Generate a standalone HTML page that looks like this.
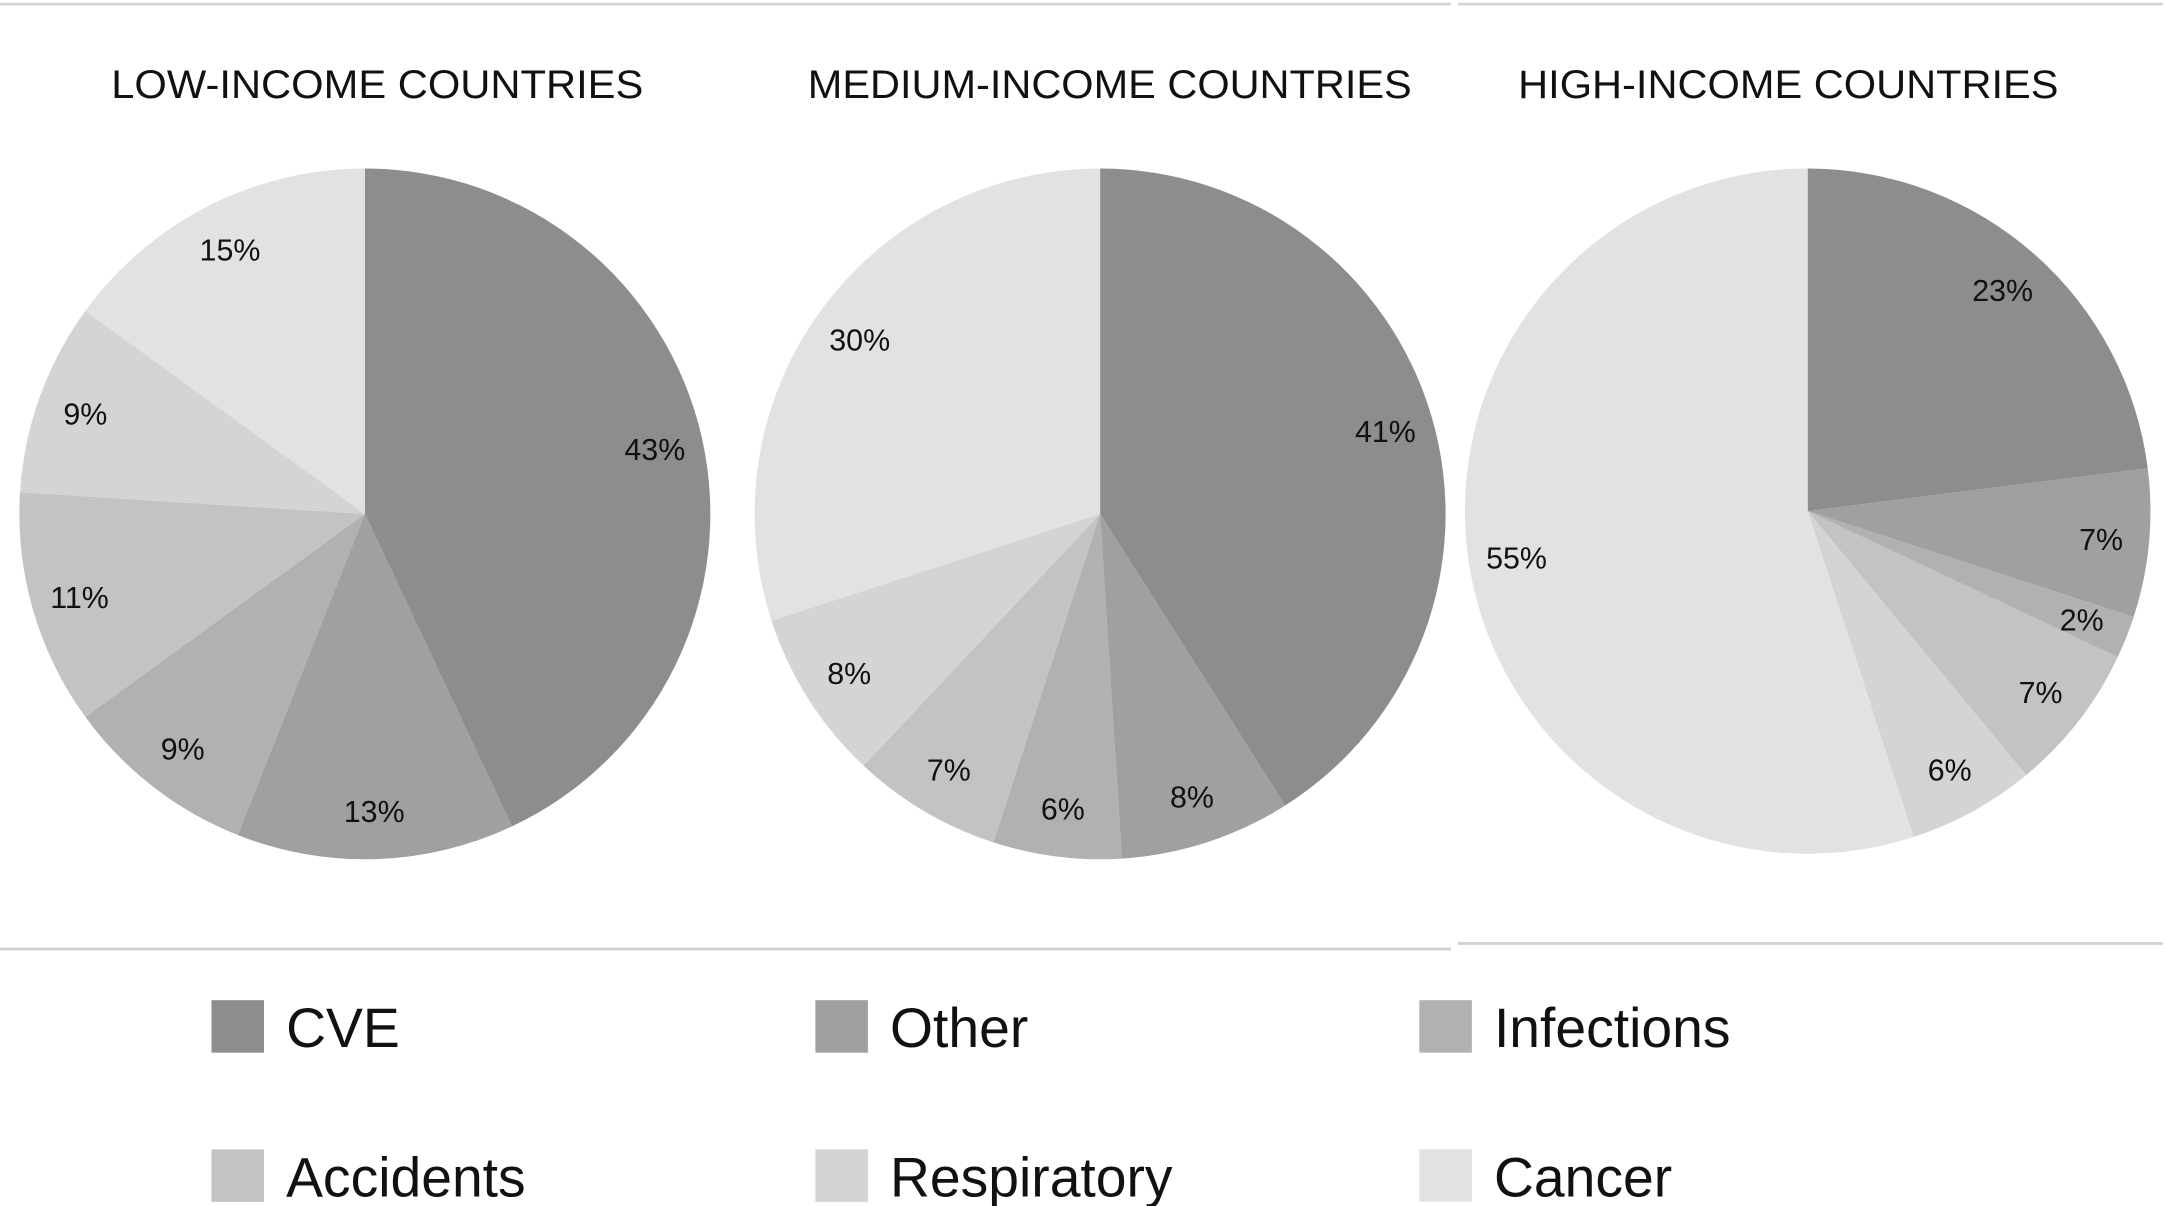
<!DOCTYPE html>
<html><head><meta charset="utf-8"><style>
html,body{margin:0;padding:0;background:#fff}
svg{display:block}
text{font-family:"Liberation Sans",Arial,sans-serif;fill:#111}
</style></head><body>
<svg width="2167" height="1206" viewBox="0 0 1568 873" preserveAspectRatio="none" xmlns="http://www.w3.org/2000/svg">
<g id="lines">
<line x1="0" y1="3" x2="1050" y2="3" stroke="#d6d6d6" stroke-width="2"/>
<line x1="1055" y1="3" x2="1565" y2="3" stroke="#d6d6d6" stroke-width="2"/>
<line x1="0" y1="687" x2="1050" y2="687" stroke="#d0d0d0" stroke-width="2"/>
<line x1="1055" y1="683" x2="1565" y2="683" stroke="#d0d0d0" stroke-width="2"/>
</g>
<g id="pies"></g>
<g id="legend"></g>
</svg>
<script>
const categories = ["CVE","Other","Infections","Accidents","Respiratory","Cancer"];
const colors = ["#8c8d8f","#a0a0a1","#b1b1b2","#c3c3c3","#d4d4d4","#e2e2e2"];
const groups = ["LOW-INCOME COUNTRIES","MEDIUM-INCOME COUNTRIES","HIGH-INCOME COUNTRIES"];
const lowValues = [43,13,9,11,9,15];
const mediumValues = [41,8,6,7,8,30];
const highValues = [23,7,2,7,6,55];
const allValues = [lowValues, mediumValues, highValues];
const NS = "http://www.w3.org/2000/svg";
const layout = [{cx:264,cy:372,r:250,tx:273,tl:385},{cx:796,cy:372,r:250,tx:803,tl:437},{cx:1308,cy:370,r:248,tx:1294,tl:391}];
const pies = document.getElementById('pies');
function pt(cx,cy,r,a){return [cx+r*Math.sin(a), cy-r*Math.cos(a)];}
allValues.forEach((vals,gi)=>{
  const L = layout[gi];
  const g = document.createElementNS(NS,'g');
  
  
  pies.appendChild(g);
  const t = document.createElementNS(NS,'text');
  
  
  t.setAttribute('x', L.tx); t.setAttribute('y', 71);
  t.setAttribute('text-anchor','middle'); t.setAttribute('font-size','29');
  t.setAttribute('textLength', L.tl); t.setAttribute('lengthAdjust','spacingAndGlyphs');
  t.textContent = groups[gi];
  g.appendChild(t);
  const total = vals.reduce((a,b)=>a+b,0);
  let acc = 0;
  vals.forEach((v,i)=>{
    const a0 = acc/total*2*Math.PI; acc += v; const a1 = acc/total*2*Math.PI;
    const p0 = pt(L.cx,L.cy,L.r,a0), p1 = pt(L.cx,L.cy,L.r,a1);
    const large = (a1-a0) > Math.PI ? 1 : 0;
    const path = document.createElementNS(NS,'path');
    
    
    path.setAttribute('d', `M${L.cx},${L.cy} L${p0[0]},${p0[1]} A${L.r},${L.r} 0 ${large} 1 ${p1[0]},${p1[1]} Z`);
    path.setAttribute('fill', colors[i]);
    g.appendChild(path);
  });
  acc = 0;
  vals.forEach((v,i)=>{
    const am = (acc + v/2)/total*2*Math.PI; acc += v;
    const p = pt(L.cx,L.cy,L.r*0.86,am);
    const lt = document.createElementNS(NS,'text');
    
    
    lt.setAttribute('x', p[0]); lt.setAttribute('y', p[1]+8);
    lt.setAttribute('text-anchor','middle'); lt.setAttribute('font-size','22');
    lt.textContent = v + '%';
    g.appendChild(lt);
  });
});
const legend = document.getElementById('legend');
const lx = [153,590,1027], ly = [724,832];
categories.forEach((c,i)=>{
  const x = lx[i%3], y = ly[Math.floor(i/3)];
  const r = document.createElementNS(NS,'rect');
  
  
  r.setAttribute('x', x); r.setAttribute('y', y); r.setAttribute('width', 38); r.setAttribute('height', 38);
  r.setAttribute('fill', colors[i]);
  legend.appendChild(r);
  const t = document.createElementNS(NS,'text');
  
  
  t.setAttribute('x', x+54); t.setAttribute('y', y+34); t.setAttribute('font-size','40');
  t.textContent = c;
  legend.appendChild(t);
});
</script>
</body></html>
